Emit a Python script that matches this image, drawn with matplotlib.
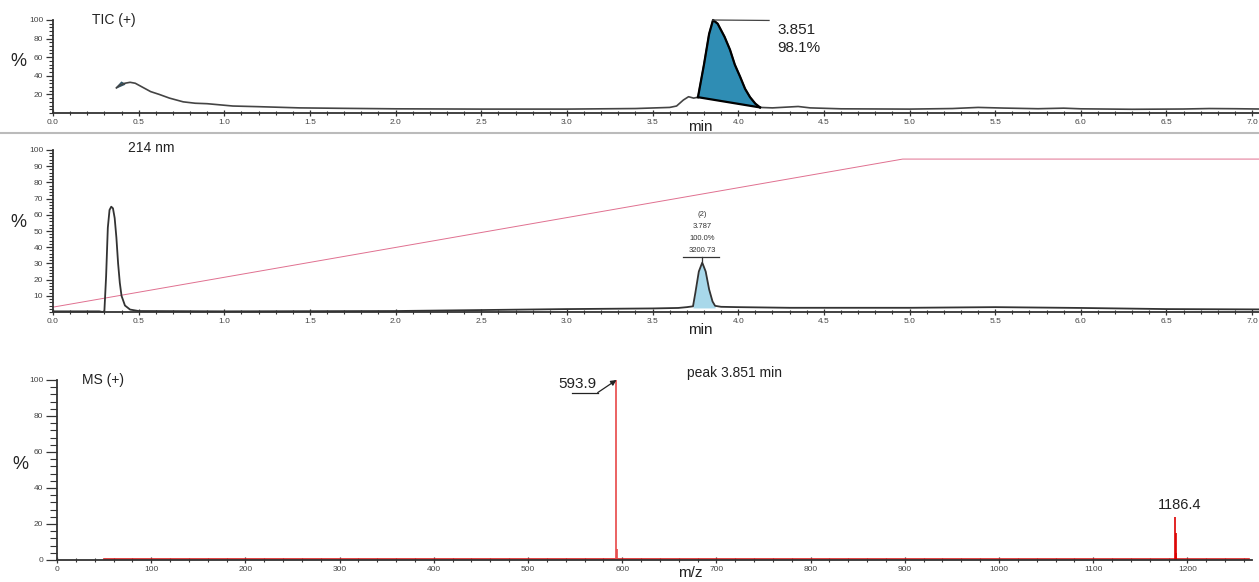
import numpy as np
import matplotlib
matplotlib.use("Agg")
import matplotlib.pyplot as plt
from matplotlib.ticker import MultipleLocator, FixedLocator

plt.rcParams['font.family'] = ['Liberation Sans', 'DejaVu Sans']

# ---- TIC (+) trace: time (min), relative %
tic_t = [0.37, 0.39, 0.42, 0.45, 0.48, 0.52, 0.57, 0.62, 0.68, 0.76, 0.83, 0.90,
         1.05, 1.2, 1.44, 1.7, 2.0, 2.5, 3.0, 3.4, 3.60, 3.64, 3.68, 3.71, 3.74,
         3.765, 3.80, 3.83, 3.853, 3.88, 3.92, 3.952, 3.98, 4.011, 4.04, 4.069,
         4.10, 4.127, 4.2, 4.3, 4.35, 4.42, 4.6, 5.0, 5.25, 5.4, 5.55, 5.75,
         5.9, 6.0, 6.3, 6.6, 6.75, 6.9, 7.04]
tic_y = [27, 30, 32, 33, 32, 28, 23, 20, 16, 12, 10.5, 10,
         7.5, 6.8, 5.5, 5.0, 4.5, 4.2, 4.2, 4.8, 6.0, 7.5, 14, 17.5, 16,
         17, 52, 85, 100, 96, 82, 68, 52, 39, 26, 17,
         10, 6, 5.5, 6.5, 7, 5.5, 4.5, 4.2, 4.8, 6.0, 5.3, 4.6,
         5.2, 4.5, 4.0, 4.3, 4.8, 4.6, 4.3]
tic_peak = (3.765, 4.127)    # integrated region
tic_peak_rt = 3.851
tic_peak_area = "98.1%"

# ---- UV 214 nm trace
uv_t = [0.0, 0.27, 0.29, 0.30, 0.31, 0.32, 0.33, 0.34, 0.35, 0.36, 0.37, 0.38,
        0.39, 0.40, 0.42, 0.45, 0.5, 1.0, 2.0, 2.5, 3.0, 3.5, 3.65, 3.70, 3.736,
        3.75, 3.77, 3.79, 3.81, 3.83, 3.85, 3.865, 3.9, 4.0, 4.3, 5.0, 5.5,
        6.0, 6.5, 7.04]
uv_y = [0.4, 0.4, 0.0, 0.6, 22, 52, 63, 65, 64, 58, 46, 30,
        18, 10, 4, 1.5, 0.6, 0.4, 0.6, 1.2, 1.8, 2.2, 2.5, 3.0, 3.5,
        12, 25, 30.5, 25, 14, 6.5, 3.8, 3.2, 3.0, 2.6, 2.6, 3.0,
        2.5, 1.8, 1.6]
uv_peak = (3.73, 3.89)
uv_peak_lines = ["(2)", "3.787", "100.0%", "3200.73"]

# ---- solvent gradient (pink line), %B
grad_t = [0.0, 4.96, 7.04]
grad_b = [3, 94.4, 94.4]

# ---- MS (+) spectrum at 3.851 min
ms_base_mz = [50, 1265]
ms_base_i = [0.6, 0.6]
ms_mz = [593.9, 594.9, 1186.4, 1187.4, 1188.4]
ms_i = [100, 6, 24, 15, 4]
ms_labels = {593.9: "593.9", 1186.4: "1186.4"}

fig = plt.figure(figsize=(12.59, 5.82), dpi=100)
tick_col = "#444444"
ax_col = "#333333"


def style_axis(ax):
    for s in ("top", "right"):
        ax.spines[s].set_visible(False)
    for s in ("left", "bottom"):
        ax.spines[s].set_color(ax_col)
        ax.spines[s].set_linewidth(1.3)
    ax.tick_params(axis="both", which="major", labelsize=6, labelcolor=tick_col,
                   color=ax_col, width=0.9, pad=2)
    ax.tick_params(axis="y", which="major", length=5, direction="out")
    ax.tick_params(axis="y", which="minor", length=3, width=0.8, color=ax_col)
    ax.tick_params(axis="x", which="major", length=4, direction="inout")
    ax.tick_params(axis="x", which="minor", length=2.5, width=0.8, direction="inout", color=ax_col)


# ---------------- panel 1: TIC
ax1 = fig.add_axes([53 / 1259, 1 - 113 / 582, 1 - 53 / 1259, (113 - 20) / 582])
ax1.plot(tic_t, tic_y, color="#444444", lw=1.2)
tt = np.array(tic_t)
ty = np.array(tic_y)
m = (tt >= tic_peak[0]) & (tt <= tic_peak[1])
px = tt[m]
py = ty[m]
base = np.interp(px, [px[0], px[-1]], [py[0], py[-1]])
ax1.fill_between(px, base, py, color="#2f8db4", lw=0)
ax1.plot(px, py, color="black", lw=1.6)
ax1.plot([px[0], px[-1]], [py[0], py[-1]], color="black", lw=1.6)
# small integrated marker at the start
ax1.fill([0.37, 0.42, 0.40], [27, 31, 33], color="#2f8db4", ec="#335566", lw=1)
ax1.plot([tic_peak_rt, 4.18], [100, 99.5], color="#444444", lw=0.9)
ax1.text(4.23, 89, f"{tic_peak_rt:.3f}", fontsize=11, va="center", color="#222222")
ax1.text(4.23, 70, tic_peak_area, fontsize=11, va="center", color="#222222")
ax1.text(0.23, 100, "TIC (+)", fontsize=10, va="center", color="#222222")
ax1.text(-0.204, 55, "%", fontsize=13, ha="center", va="center", color="#222222")
ax1.text(3.78, -15, "min", fontsize=11, ha="center", va="center", color="#222222")
ax1.set_xlim(0, 7.04)
ax1.set_ylim(0, 100)
ax1.set_xticks(np.arange(0, 7.01, 0.5))
ax1.set_xticklabels([f"{v:.1f}" for v in np.arange(0, 7.01, 0.5)])
ax1.xaxis.set_minor_locator(MultipleLocator(0.1))
ax1.yaxis.set_major_locator(FixedLocator([20, 40, 60, 80, 100]))
ax1.yaxis.set_minor_locator(MultipleLocator(4))
style_axis(ax1)

# separator
fig.add_artist(plt.Line2D([0, 1], [1 - 133 / 582, 1 - 133 / 582], color="#bbbbbb", lw=1.5))

# ---------------- panel 2: UV
ax2 = fig.add_axes([53 / 1259, 1 - 312 / 582, 1 - 53 / 1259, (312 - 150) / 582])
ax2.plot(grad_t, grad_b, color="#e07090", lw=0.7)
ut = np.array(uv_t)
uy = np.array(uv_y)
m2 = (ut >= uv_peak[0]) & (ut <= uv_peak[1])
ax2.fill_between(ut[m2], 2.5, uy[m2], color="#a8d8ea", lw=0)
ax2.plot(uv_t, uv_y, color="#333333", lw=1.3)
for i, s in enumerate(uv_peak_lines):
    ax2.text(3.79, 60 - i * 7.3, s, fontsize=5.5, ha="center", va="center", color="#333333")
ax2.plot([3.68, 3.89], [34, 34], color="#333333", lw=0.9)
ax2.plot([3.79, 3.79], [34, 31.5], color="#333333", lw=0.9)
ax2.text(0.44, 101, "214 nm", fontsize=10, va="center", color="#222222")
ax2.text(-0.204, 55.5, "%", fontsize=13, ha="center", va="center", color="#222222")
ax2.text(3.78, -11, "min", fontsize=11, ha="center", va="center", color="#222222")
ax2.set_xlim(0, 7.04)
ax2.set_ylim(0, 100)
ax2.set_xticks(np.arange(0, 7.01, 0.5))
ax2.set_xticklabels([f"{v:.1f}" for v in np.arange(0, 7.01, 0.5)])
ax2.xaxis.set_minor_locator(MultipleLocator(0.1))
ax2.yaxis.set_major_locator(FixedLocator(list(range(10, 101, 10))))
ax2.yaxis.set_minor_locator(MultipleLocator(2))
style_axis(ax2)

# ---------------- panel 3: MS
ax3 = fig.add_axes([57 / 1259, 1 - 560 / 582, (1252 - 57) / 1259, (560 - 380) / 582])
ax3.plot(ms_base_mz, ms_base_i, color="#dd2222", lw=1.2)
for mz, inten in zip(ms_mz, ms_i):
    col = "#e84848" if mz < 1000 else "#dd0000"
    ax3.vlines(mz, 0, inten, color=col, lw=1.2)
ax3.annotate("", xy=(593.9, 100), xytext=(574, 93),
             arrowprops=dict(arrowstyle="-|>", color="#222222", lw=0.9,
                             mutation_scale=8, shrinkA=0, shrinkB=0))
ax3.plot([547, 574], [93, 93], color="#222222", lw=0.9)
ax3.text(573, 98, ms_labels[593.9], fontsize=11, ha="right", va="center", color="#222222")
ax3.text(1192, 30.5, ms_labels[1186.4], fontsize=10.5, ha="center", va="center", color="#222222")
ax3.text(26.5, 100, "MS (+)", fontsize=10, va="center", color="#222222")
ax3.text(669, 104, "peak 3.851 min", fontsize=10, va="center", color="#222222")
ax3.text(-39, 53, "%", fontsize=13, ha="center", va="center", color="#222222")
ax3.text(672, -7, "m/z", fontsize=11, ha="center", va="center", color="#222222")
ax3.set_xlim(0, 1268.6)
ax3.set_ylim(0, 100)
ax3.set_xticks(np.arange(0, 1201, 100))
ax3.xaxis.set_minor_locator(MultipleLocator(20))
ax3.yaxis.set_major_locator(MultipleLocator(20))
ax3.yaxis.set_minor_locator(MultipleLocator(4))
style_axis(ax3)
ax3.tick_params(axis="y", which="major", length=8)
ax3.tick_params(axis="y", which="minor", length=5)

for a in (ax1, ax2, ax3):
    for art in a.lines + a.texts:
        art.set_clip_on(False)

fig.savefig("out.png", dpi=100)
